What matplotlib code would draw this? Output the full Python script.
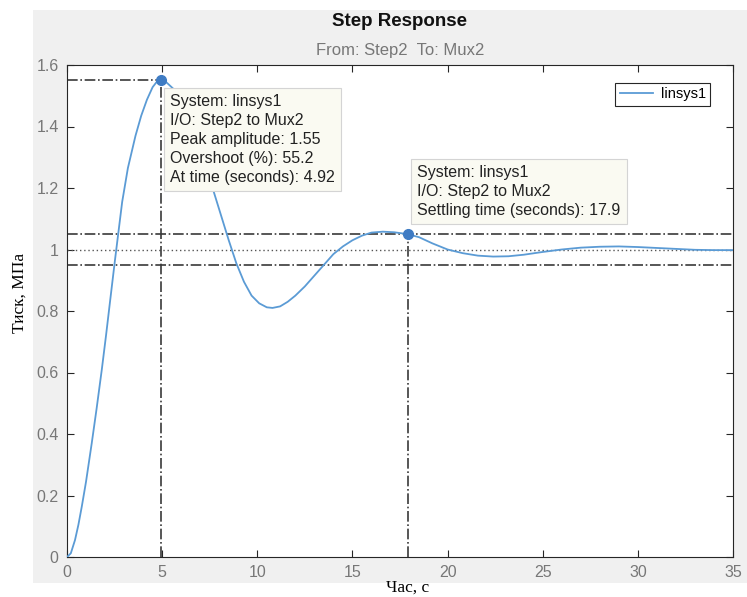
import matplotlib.pyplot as plt
from matplotlib.patches import Rectangle

plt.rcParams["font.family"] = ["Liberation Sans", "DejaVu Sans"]

# step response samples (time in s, output)
t = [0, 0.2, 0.42, 0.6, 0.78, 1.0, 1.3, 1.55, 1.83, 2.05, 2.26, 2.52, 2.7, 2.9,
     3.2, 3.6, 3.9, 4.2, 4.5, 4.7, 4.92, 5.2, 5.6, 6.0, 6.4, 6.8, 7.2, 7.7, 8.1,
     8.5, 8.9, 9.3, 9.7, 10.1, 10.5, 10.8, 11.2, 11.6, 12.0, 12.5, 13.0, 13.5,
     14.0, 14.5, 15.0, 15.5, 16.0, 16.6, 17.2, 17.9, 18.5, 19.2, 20.0, 20.8, 21.6,
     22.4, 23.2, 24.0, 25.0, 26.0, 27.0, 28.0, 29.0, 30.0, 31.0, 32.0, 33.0, 34.0,
     35.0]
y = [0, 0.012, 0.055, 0.105, 0.165, 0.245, 0.37, 0.48, 0.61, 0.72, 0.83, 0.965,
     1.055, 1.155, 1.265, 1.37, 1.435, 1.487, 1.528, 1.544, 1.55, 1.545, 1.522,
     1.48, 1.42, 1.36, 1.29, 1.19, 1.11, 1.03, 0.955, 0.895, 0.85, 0.825, 0.812,
     0.81, 0.815, 0.83, 0.85, 0.88, 0.915, 0.95, 0.985, 1.01, 1.03, 1.045, 1.055,
     1.058, 1.056, 1.05, 1.04, 1.02, 1.0, 0.988, 0.98, 0.977, 0.978, 0.983, 0.992,
     1.0, 1.006, 1.009, 1.01, 1.008, 1.005, 1.002, 0.999, 0.998, 0.998]

peak_t, peak_y = 4.92, 1.55
overshoot = 55.2
settle_t, settle_y = 17.9, 1.05
final_value = 1.0
band = 0.05

xticks = [0, 5, 10, 15, 20, 25, 30, 35]
yticks = [0, 0.2, 0.4, 0.6, 0.8, 1, 1.2, 1.4, 1.6]

fig = plt.figure(figsize=(7.47, 5.97), dpi=100)
fig.patch.set_facecolor("white")
fig.patches.append(Rectangle((33 / 747, 1 - 583 / 597), 714 / 747, 573 / 597,
                             transform=fig.transFigure, facecolor="#f0f0f0",
                             edgecolor="none", zorder=-10))

ax = fig.add_axes([67 / 747, 1 - 557 / 597, 666 / 747, 492 / 597])
ax.set_facecolor("white")

line_col = "#5b9bd5"
mark_col = "#3f7cc4"
guide_col = "#3a3a3a"

ax.plot(t, y, color=line_col, lw=1.3, label="linsys1", zorder=3)

# steady-state and settling band
ax.axhline(final_value, color="#555555", lw=1.0, ls=(0, (1, 2)), zorder=2)
ax.axhline(final_value + band, color=guide_col, lw=1.2, ls="-.", zorder=2)
ax.axhline(final_value - band, color=guide_col, lw=1.2, ls="-.", zorder=2)

# peak guides
ax.plot([0, peak_t], [peak_y, peak_y], color=guide_col, lw=1.2, ls="-.", zorder=2)
ax.plot([peak_t, peak_t], [0, peak_y], color=guide_col, lw=1.2, ls="-.", zorder=2)
# settling guide
ax.plot([settle_t, settle_t], [0, settle_y], color=guide_col, lw=1.2, ls="-.", zorder=2)

ax.plot([peak_t, settle_t], [peak_y, settle_y], ls="none", marker="o", ms=7,
        color=mark_col, zorder=5)

box = dict(boxstyle="square,pad=0.4", facecolor="#fafaf2", edgecolor="#d4d4d4", lw=0.8)
ax.text(5.42, 1.505,
        "System: linsys1\nI/O: Step2 to Mux2\nPeak amplitude: %.2f\n"
        "Overshoot (%%): %.1f\nAt time (seconds): %.2f" % (peak_y, overshoot, peak_t),
        ha="left", va="top", fontsize=11.5, color="#222222", linespacing=1.33,
        bbox=box, zorder=6)
ax.text(18.4, 1.275,
        "System: linsys1\nI/O: Step2 to Mux2\nSettling time (seconds): %.1f" % settle_t,
        ha="left", va="top", fontsize=11.5, color="#222222", linespacing=1.33,
        bbox=box, zorder=6)

ax.set_xlim(0, 35)
ax.set_ylim(0, 1.6)
ax.set_xticks(xticks)
ax.set_yticks(yticks)
ax.set_yticklabels(["0", "0.2", "0.4", "0.6", "0.8", "1", "1.2", "1.4", "1.6"])
ax.tick_params(direction="in", top=True, right=True, length=5, width=0.8,
               colors="#262626", labelcolor="#777777", labelsize=11.5, pad=6)
for s in ax.spines.values():
    s.set_color("#262626")
    s.set_linewidth(0.8)

leg = ax.legend(loc="upper right", bbox_to_anchor=(0.9655, 0.9634),
                borderaxespad=0, fontsize=10.5, fancybox=False, framealpha=1,
                edgecolor="#262626", handlelength=2.3, handletextpad=0.5,
                borderpad=0.3)
leg.get_frame().set_linewidth(0.8)

fig.text(400 / 747, 1 - 22 / 597, "Step Response", ha="center", va="center",
         fontsize=13.5, fontweight="bold", color="#111111")
fig.text(400 / 747, 1 - 50 / 597, "From: Step2  To: Mux2", ha="center",
         va="center", fontsize=12, color="#777777")

fig.text(408 / 747, 1 - 588 / 597, "Час, с", ha="center", va="center",
         fontsize=12.5, family=["Liberation Serif", "DejaVu Serif"], color="black")
fig.text(20 / 747, 1 - 293 / 597, "Тиск, МПа", ha="center", va="center",
         rotation=90, fontsize=12.5, family=["Liberation Serif", "DejaVu Serif"],
         color="black")

fig.savefig("out.png", dpi=100)
